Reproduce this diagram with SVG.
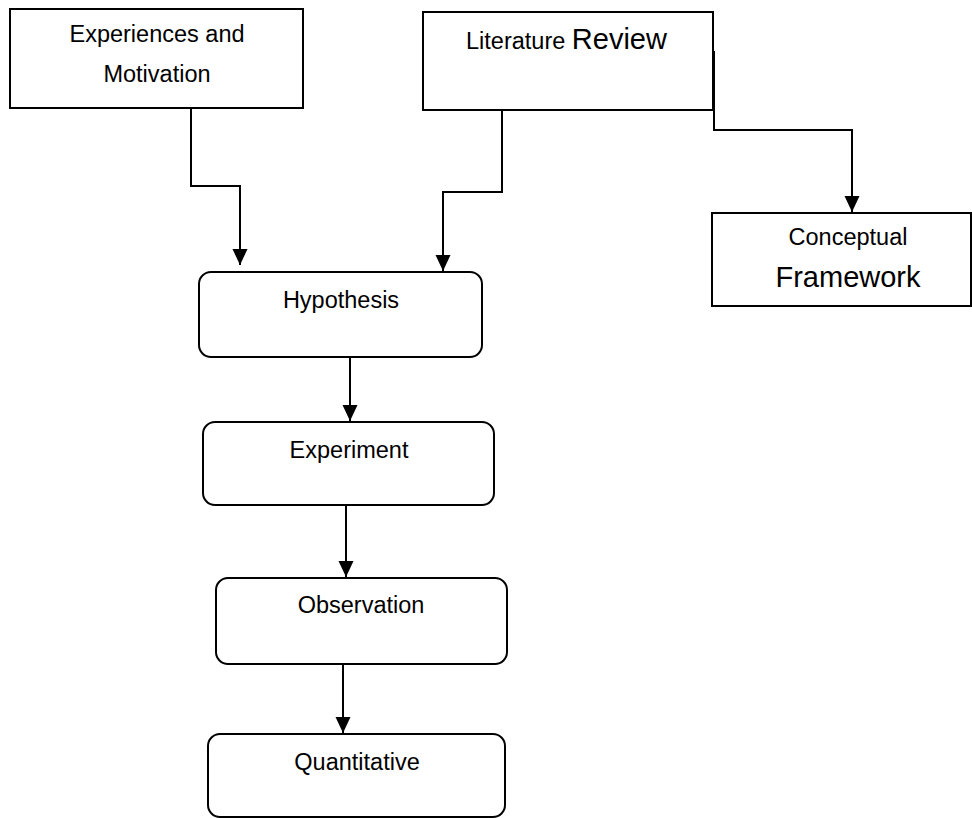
<svg xmlns="http://www.w3.org/2000/svg" width="972" height="818" viewBox="0 0 972 818">
  <style>
    .box { fill: #ffffff; stroke: #000000; stroke-width: 2; }
    .link { fill: none; stroke: #000000; stroke-width: 2; }
    text { font-family: "Liberation Sans", Arial, sans-serif; font-size: 23.5px; fill: #000000; text-anchor: middle; }
    .big { font-size: 29px; }
  </style>
  <defs>
    <marker id="arrow" markerUnits="userSpaceOnUse" markerWidth="16" markerHeight="16" viewBox="0 0 16 16" refX="16" refY="8" orient="auto">
      <path d="M0,0.5 L16,8 L0,15.5 Z" fill="#000000"/>
    </marker>
  </defs>
  <rect width="972" height="818" fill="#ffffff"/>

  <!-- connectors -->
  <g id="connectors">
    <polyline class="link" points="191,108 191,186 240,186 240,265" marker-end="url(#arrow)"/>
    <polyline class="link" points="502,110 502,192 443,192 443,271" marker-end="url(#arrow)"/>
    <polyline class="link" points="714,51 714,130 852,130 852,212" marker-end="url(#arrow)"/>
    <line class="link" x1="350" y1="357" x2="350" y2="421" marker-end="url(#arrow)"/>
    <line class="link" x1="346" y1="505" x2="346" y2="577" marker-end="url(#arrow)"/>
    <line class="link" x1="343" y1="664" x2="343" y2="733" marker-end="url(#arrow)"/>
  </g>

  <g id="experiences">
    <rect class="box" x="10" y="9" width="293" height="99"/>
    <text x="157" y="42">Experiences and</text>
    <text x="157" y="82">Motivation</text>
  </g>

  <g id="literature">
    <rect class="box" x="423" y="12" width="290" height="98"/>
    <text x="466" y="49" style="text-anchor:start">Literature <tspan class="big">Review</tspan></text>
  </g>

  <g id="conceptual">
    <rect class="box" x="712" y="213" width="259" height="93"/>
    <text x="848" y="245">Conceptual</text>
    <text x="848" y="287" class="big">Framework</text>
  </g>

  <g id="hypothesis">
    <rect class="box" x="199" y="272" width="283" height="85" rx="12" ry="12"/>
    <text x="341" y="308">Hypothesis</text>
  </g>

  <g id="experiment">
    <rect class="box" x="203" y="422" width="291" height="83" rx="12" ry="12"/>
    <text x="349" y="458">Experiment</text>
  </g>

  <g id="observation">
    <rect class="box" x="216" y="578" width="291" height="86" rx="12" ry="12"/>
    <text x="361" y="613">Observation</text>
  </g>

  <g id="quantitative">
    <rect class="box" x="208" y="734" width="297" height="83" rx="12" ry="12"/>
    <text x="357" y="770">Quantitative</text>
  </g>
</svg>
